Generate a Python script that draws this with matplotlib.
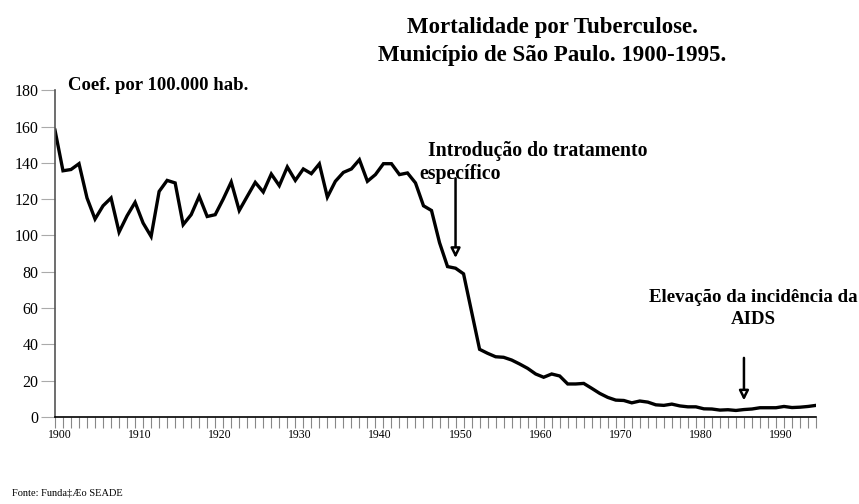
import matplotlib.pyplot as plt
from matplotlib.ticker import MultipleLocator

plt.rcParams['font.family'] = ['Liberation Serif', 'DejaVu Serif']

# Coeficiente de mortalidade por 100.000 hab., 1900-1995
years = list(range(1900, 1996))
rates = [
    158, 135.6, 136.3, 139.5, 120.6, 109, 116.3, 120.6, 101.8, 110.8,   # 1900s
    118.2, 106.8, 99.4, 124.2, 130.3, 128.9, 105.9, 111.4, 121.5, 110.4,  # 1910s
    111.4, 120, 129.4, 113.7, 121.5, 129.2, 123.9, 133.8, 127.4, 137.7,   # 1920s
    130.3, 136.6, 134, 139.4, 121.1, 129.8, 134.7, 136.6, 141.7, 129.8,   # 1930s
    133.5, 139.5, 139.5, 133.5, 134.4, 128.9, 116.3, 113.7, 96, 82.8,     # 1940s
    81.9, 78.8, 58, 37.2, 35, 33.1, 32.8, 31.3, 29.1, 26.7,              # 1950s
    23.6, 21.8, 23.6, 22.5, 18.1, 18.1, 18.4, 15.7, 12.9, 10.7,          # 1960s
    9.2, 9.0, 7.7, 8.7, 8.1, 6.6, 6.3, 7.0, 6.0, 5.5,                    # 1970s
    5.5, 4.4, 4.3, 3.7, 3.9, 3.5, 4.0, 4.3, 5.0, 5.0,                    # 1980s
    5.0, 5.7, 5.1, 5.3, 5.7, 6.3,                                        # 1990s
]
decade_labels = [1900, 1910, 1920, 1930, 1940, 1950, 1960, 1970, 1980, 1990]

fig = plt.figure(figsize=(8.59, 5.04), dpi=100)
ax = fig.add_axes([0.064, 0.173, 0.886, 0.648])

ax.plot(years, rates, color='black', lw=2.4, solid_joinstyle='miter')

ax.set_xlim(1900, 1995)
ax.set_ylim(0, 180)
ax.set_yticks(range(0, 181, 20))
ax.tick_params(axis='y', labelsize=11.5, length=10, color='#aaaaaa', pad=2)

# decade labels sit between the yearly tick marks
ax.set_xticks([d + 0.6 for d in decade_labels])
ax.set_xticklabels([str(d) for d in decade_labels], fontsize=8.5)
ax.tick_params(axis='x', which='major', length=0, pad=9)
ax.xaxis.set_minor_locator(MultipleLocator(1))
ax.tick_params(axis='x', which='minor', length=8, direction='out', color='#888888', width=0.8)

for s in ['top', 'right']:
    ax.spines[s].set_visible(False)
ax.spines['left'].set_color('#555555')
ax.spines['left'].set_linewidth(1.2)
ax.spines['bottom'].set_color('black')
ax.spines['bottom'].set_linewidth(1.2)

fig.text(0.643, 0.945, 'Mortalidade por Tuberculose.', ha='center', va='center',
         fontsize=16.5, fontweight='bold')
fig.text(0.643, 0.89, 'Município de São Paulo. 1900-1995.', ha='center', va='center',
         fontsize=16.5, fontweight='bold')
fig.text(0.079, 0.831, 'Coef. por 100.000 hab.', ha='left', va='center',
         fontsize=13.5, fontweight='bold')

# anotacoes
ax.text(1946.6, 146.5, 'Introdução do tratamento', ha='left', va='center',
        fontsize=14.2, fontweight='bold')
ax.text(1945.5, 133.8, 'específico', ha='left', va='center',
        fontsize=14.2, fontweight='bold')
ax.annotate('', xy=(1950, 86), xytext=(1950, 133),
            arrowprops=dict(arrowstyle='-|>', color='black', lw=1.8,
                            mutation_scale=14, fc='white'))

ax.text(1987.2, 66, 'Elevação da incidência da', ha='center', va='center',
        fontsize=13.6, fontweight='bold')
ax.text(1987.2, 53.5, 'AIDS', ha='center', va='center',
        fontsize=13.6, fontweight='bold')
ax.annotate('', xy=(1986, 7.5), xytext=(1986, 34),
            arrowprops=dict(arrowstyle='-|>', color='black', lw=1.8,
                            mutation_scale=14, fc='white'))

fig.text(0.014, 0.022, 'Fonte: Funda‡Æo SEADE', ha='left', va='center', fontsize=7.5)

fig.savefig('out.png', dpi=100)
